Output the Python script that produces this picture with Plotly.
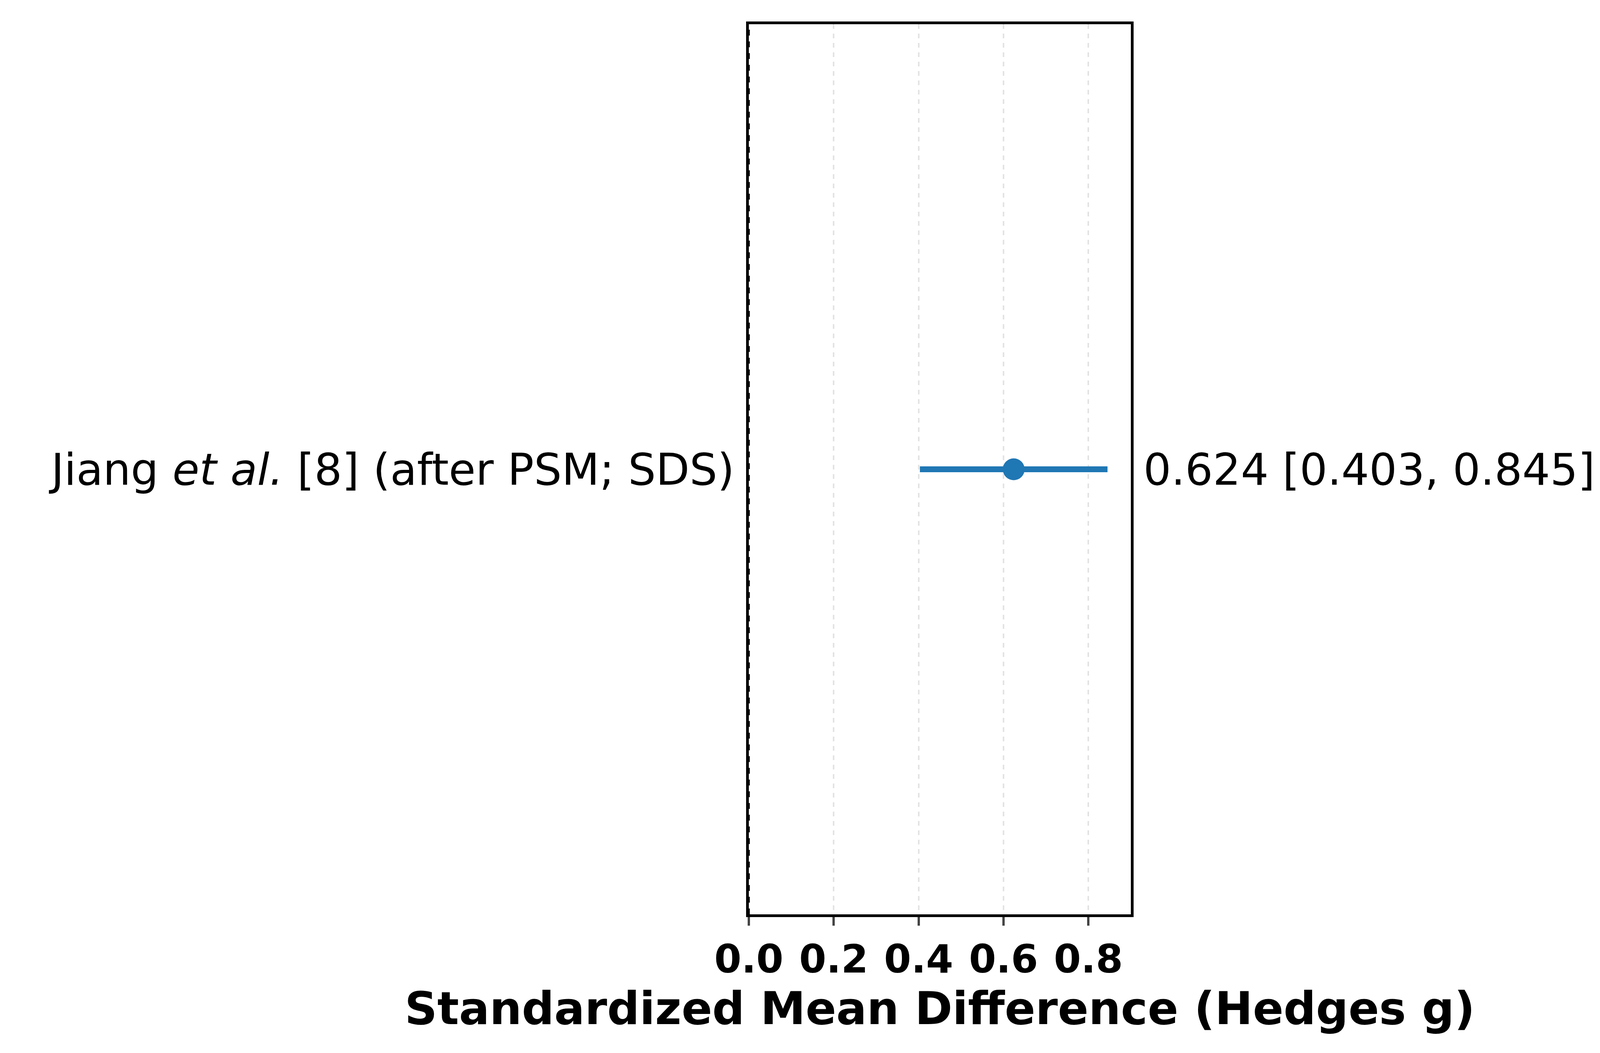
import plotly.graph_objects as go

# ----------------------------------- Data -----------------------------------

study_labels = ["Jiang <i>et al.</i> [8] (after PSM; SDS)"]
effect = [0.624]
ci_low = [0.403]
ci_high = [0.845]
x_ticks = [0.0, 0.2, 0.4, 0.6, 0.8]

BLUE = "#1f77b4"

# ----------------------------------- Figure -----------------------------------

fig = go.Figure()

# confidence interval lines
for i in range(len(effect)):
    fig.add_trace(go.Scatter(x=[ci_low[i], ci_high[i]], y=[i, i], mode="lines",
                             line=dict(color=BLUE, width=15), showlegend=False))

fig.add_trace(go.Scatter(x=effect, y=list(range(len(effect))), mode="markers",
                         marker=dict(color=BLUE, size=56), showlegend=False))

# null effect line
fig.add_shape(type="line", x0=0, x1=0, y0=0, y1=1, yref="paper",
              line=dict(color="black", width=5, dash="dash"))

for i in range(len(effect)):
    fig.add_annotation(x=0, xref="paper", y=i, xanchor="right", showarrow=False,
                       text=study_labels[i], xshift=-35,
                       font=dict(size=112, color="black"))
    fig.add_annotation(x=1, xref="paper", y=i, xanchor="left", showarrow=False,
                       text=f"{effect[i]:.3f} [{ci_low[i]:.3f}, {ci_high[i]:.3f}]", xshift=30,
                       font=dict(size=112, color="black"))

fig.update_xaxes(range=[0, 0.9], tickvals=x_ticks, ticktext=[f"{t:.1f}" for t in x_ticks],
                 tickfont=dict(size=100, color="black", weight="bold"),
                 showgrid=True, gridcolor="#e3e3e3", griddash="dash", gridwidth=4,
                 zeroline=False, showline=True, linecolor="black", linewidth=7, mirror=True,
                 ticks="outside", ticklen=22, tickwidth=6,
                 title=dict(text="<b>Standardized Mean Difference (Hedges g)</b>",
                            font=dict(size=116, color="black"), standoff=20))
fig.update_yaxes(range=[-1.9, 1.9], showticklabels=False, showgrid=False, zeroline=False,
                 showline=True, linecolor="black", linewidth=7, mirror=True)

fig.update_layout(
    autosize=True,
    font=dict(family="DejaVu Sans"),
    plot_bgcolor="white", paper_bgcolor="white",
    margin=dict(l=1909, r=1193, t=54, b=363),
)

fig.write_html("out.html", default_width="100%", default_height="100vh")
